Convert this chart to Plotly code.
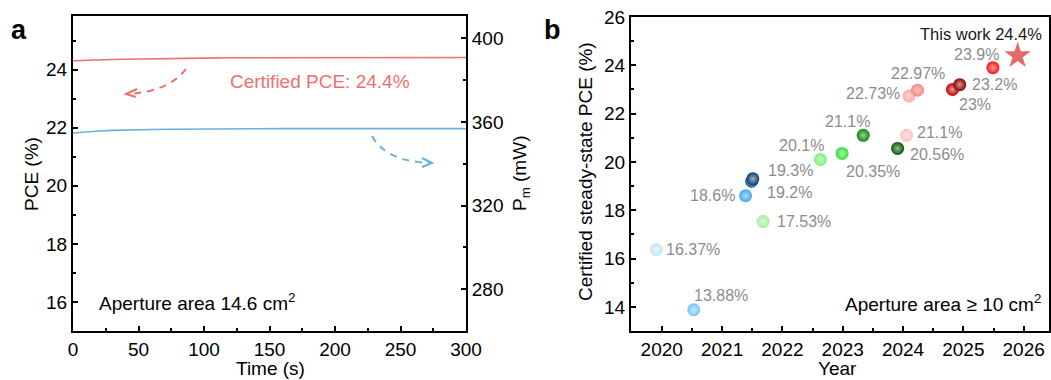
import plotly.graph_objects as go

# ---------------- data: panel a ----------------
time_s = [0, 5, 10, 20, 30, 40, 50, 60, 75, 90, 100, 120, 140, 160, 180, 200, 220, 240, 260, 280, 300]
pce_t = [24.31, 24.32, 24.33, 24.34, 24.35, 24.36, 24.37, 24.38, 24.39, 24.40, 24.40, 24.41, 24.41, 24.42, 24.42,
         24.42, 24.42, 24.42, 24.42, 24.42, 24.42]
pm_t = [354.7, 355.0, 355.3, 355.7, 356.0, 356.2, 356.3, 356.4, 356.5, 356.6, 356.7, 356.7, 356.8, 356.8, 356.8,
        356.8, 356.8, 356.8, 356.8, 356.8, 356.8]

# ---------------- data: panel b ----------------
years = [2019.91, 2020.53, 2021.39, 2021.49, 2021.51, 2021.68, 2022.63, 2022.99, 2023.34, 2023.91,
         2024.06, 2024.10, 2024.24, 2024.82, 2024.94, 2025.49]
pce_cert = [16.37, 13.88, 18.6, 19.2, 19.3, 17.53, 20.1, 20.35, 21.1, 20.56,
            21.1, 22.73, 22.97, 23.0, 23.2, 23.9]
this_year = [2025.9]
this_pce = [24.4]

# styles
pt_colors = ["#c4e6ff", "#78c6f8", "#3ea6ee", "#1b5d92", "#0b3d6c", "#a4f09e", "#78f078", "#35e035",
             "#0a8a0a", "#045804", "#ffc2c2", "#ffa6a6", "#ff8484", "#c80000", "#8a0000", "#ff1010"]
# (xanchor, xshift, yshift) per label
lab_pos = [("left", 8, 0), ("left", -2, 14), ("right", -9, 0), ("left", 13, -11), ("left", 13, 8),
           ("left", 12, 0), ("right", 6, 14), ("left", 2, -18), ("right", 9, 14), ("left", 10, -6),
           ("left", 8, 3), ("right", -7, 2), ("center", 0, 17), ("left", 5, -15), ("left", 10, 0),
           ("right", 8, 13)]

FONT = "Arial, Liberation Sans, sans-serif"
W, H = 1051, 380
def px(x): return x / W
def py(y): return 1 - y / H

RED = "#ef6f6f"
BLUE = "#6eaee0"
GRAY = "#8c8c8c"

fig = go.Figure()

fig.add_trace(go.Scatter(x=time_s, y=pce_t, mode="lines", line=dict(color=RED, width=1.6),
                         xaxis="x", yaxis="y", showlegend=False))
fig.add_trace(go.Scatter(x=time_s, y=pm_t, mode="lines", line=dict(color=BLUE, width=1.6),
                         xaxis="x", yaxis="y2", showlegend=False))

def tint(c, f=0.6):
    c = c.lstrip("#")
    r, g, b = int(c[0:2], 16), int(c[2:4], 16), int(c[4:6], 16)
    r = int(r + (255 - r) * f); g = int(g + (255 - g) * f); b = int(b + (255 - b) * f)
    return f"rgb({r},{g},{b})"

fig.add_trace(go.Scatter(x=years, y=pce_cert, mode="markers", xaxis="x2", yaxis="y3", showlegend=False,
                         marker=dict(size=13, color=pt_colors, line=dict(width=0),
                                     gradient=dict(type="radial", color=[tint(c) for c in pt_colors]))))
fig.add_trace(go.Scatter(x=this_year, y=this_pce, mode="markers", xaxis="x2", yaxis="y3", showlegend=False,
                         marker=dict(symbol="star", size=20, color="#e46a6a", line=dict(width=0))))

axis_common = dict(showline=True, linecolor="black", linewidth=2, ticks="inside", ticklen=5,
                   tickwidth=2, tickcolor="black", showgrid=False, zeroline=False, automargin=False,
                   tickfont=dict(size=19, color="black", family=FONT))
minor_common = dict(ticks="inside", ticklen=3, tickwidth=1.5, tickcolor="black", showgrid=False)

fig.update_layout(
    width=W, height=H, margin=dict(l=0, r=0, t=0, b=0, autoexpand=False),
    paper_bgcolor="white", plot_bgcolor="white", font=dict(family=FONT, color="black"),
    xaxis=dict(domain=[px(73), px(466)], anchor="y", range=[0, 300], tick0=0, dtick=50, mirror=True,
               minor=dict(dtick=25, **minor_common), **axis_common),
    yaxis=dict(domain=[py(331), py(16)], anchor="x", range=[15, 25.85], tick0=16, dtick=2,
               minor=dict(dtick=1, tick0=15, **minor_common), **axis_common),
    yaxis2=dict(overlaying="y", side="right", anchor="x", range=[260, 410.7], tick0=280, dtick=40,
                minor=dict(dtick=20, tick0=260, **minor_common), **axis_common),
    xaxis2=dict(domain=[px(631), px(1049)], anchor="y3", range=[2019.49, 2026.42], tick0=2020, dtick=1,
                mirror=True, minor=dict(dtick=0.5, tick0=2019.5, **minor_common), **axis_common),
    yaxis3=dict(domain=[py(331), py(17)], anchor="x2", range=[13, 26], tick0=14, dtick=2, mirror=True,
                minor=dict(dtick=1, tick0=13, **minor_common), **axis_common),
)

ann = []
def txt(x, y, s, size=19, color="black", xanchor="center", angle=0, yanchor="middle"):
    ann.append(dict(x=px(x), y=py(y), xref="paper", yref="paper", text=s, showarrow=False,
                    xanchor=xanchor, yanchor=yanchor, textangle=angle,
                    font=dict(size=size, color=color, family=FONT)))

txt(19, 30, "<b>a</b>", size=27)
txt(552, 30, "<b>b</b>", size=27)
txt(270, 368, "Time (s)")
txt(31, 174, "PCE (%)", angle=-90)
txt(521, 174, "P<sub>m</sub> (mW)", angle=-90)
txt(97, 302, "Aperture area 14.6 cm<sup>2</sup>", xanchor="left", size=19)
txt(228, 81, "Certified PCE: 24.4%", xanchor="left", size=19, color=RED)
txt(837, 368, "Year")
txt(585, 172, "Certified steady-state PCE (%)", angle=-90)
txt(1043, 303, "Aperture area \u2265 10 cm<sup>2</sup>", xanchor="right", size=19)

for xv, yv, (xa, xs, ys) in zip(years, pce_cert, lab_pos):
    ann.append(dict(x=xv, y=yv, xref="x2", yref="y3", text=f"{yv:g}%", showarrow=False,
                    xanchor=xa, yanchor="middle", xshift=xs, yshift=ys,
                    font=dict(size=16, color=GRAY, family=FONT)))
ann.append(dict(x=this_year[0], y=this_pce[0], xref="x2", yref="y3", text=f"This work {this_pce[0]:g}%",
                showarrow=False, xanchor="right", yanchor="middle", xshift=26, yshift=22,
                font=dict(size=16.5, color="#1a1a1a", family=FONT)))
fig.update_layout(annotations=ann)

# decorative dashed curved arrows (paper coordinates)
def P(x, y): return f"{px(x):.5f},{py(y):.5f}"
shapes = [
    dict(type="path", xref="paper", yref="paper", path=f"M {P(186,69)} Q {P(168,92)} {P(127,94)}",
         line=dict(color=RED, width=2, dash="7px,6px")),
    dict(type="path", xref="paper", yref="paper", path=f"M {P(137,89)} L {P(126,94)} L {P(136,97)}",
         line=dict(color=RED, width=2)),
    dict(type="path", xref="paper", yref="paper", path=f"M {P(372,136)} Q {P(386,162)} {P(432,163)}",
         line=dict(color=BLUE, width=2, dash="7px,6px")),
    dict(type="path", xref="paper", yref="paper", path=f"M {P(422,158)} L {P(432,163)} L {P(422,167)}",
         line=dict(color=BLUE, width=2)),
]
fig.update_layout(shapes=shapes)

fig.write_html("out.html")
